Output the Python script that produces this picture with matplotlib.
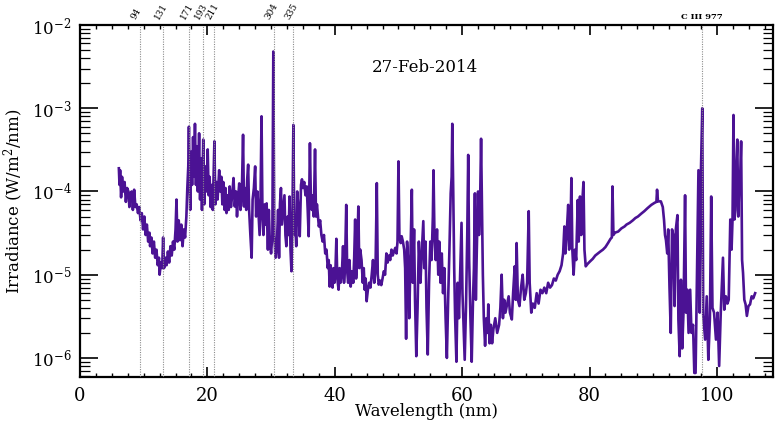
import numpy as np
import matplotlib
matplotlib.use("Agg")
import matplotlib.pyplot as plt
from matplotlib.ticker import MultipleLocator, LogLocator, NullFormatter
import matplotlib.transforms as mtransforms

plt.rcParams['font.family'] = ['DejaVu Serif']
plt.rcParams['mathtext.fontset'] = 'dejavuserif'

# spectrum, region by region (wavelength nm, irradiance W/m^2/nm)
wave_a = [6.1, 6.2, 6.3, 6.45, 6.6,
          6.8, 7.0, 7.2, 7.4, 7.6,
          7.75, 7.9, 8.1, 8.3, 8.5,
          8.7, 8.9, 9.1, 9.3, 9.5,
          9.7, 9.9, 10.1, 10.3, 10.5,
          10.7, 10.9, 11.0, 11.2, 11.4,
          11.6, 11.8, 12.0, 12.2, 12.4,
          12.5, 12.7, 12.9, 13.05, 13.2,
          13.4, 13.6, 13.8, 14.0, 14.2,
          14.4, 14.6, 14.8, 15.0, 15.15,
          15.3, 15.5, 15.7, 15.9, 16.1,
          16.3, 16.5, 16.7, 16.85, 17.0]
flux_a = [1.9e-4, 1.2e-4, 1.8e-4, 8.5e-5, 1.5e-4,
          1.0e-4, 1.3e-4, 7.5e-5, 1.1e-4, 1.0e-4,
          6.5e-5, 9.5e-5, 1.0e-4, 6.0e-5, 1.05e-4,
          6.5e-5, 7.0e-5, 5.5e-5, 6.5e-5, 4.5e-5,
          5.5e-5, 3.5e-5, 5.0e-5, 3.0e-5, 4.0e-5,
          2.5e-5, 3.2e-5, 2.2e-5, 2.8e-5, 1.8e-5,
          2.5e-5, 1.6e-5, 2.0e-5, 1.3e-5, 1.6e-5,
          1.0e-5, 1.4e-5, 1.2e-5, 2.8e-5, 1.2e-5,
          1.6e-5, 1.3e-5, 1.9e-5, 1.4e-5, 2.2e-5,
          1.7e-5, 2.5e-5, 2.0e-5, 3.5e-5, 8.0e-5,
          2.5e-5, 4.5e-5, 2.6e-5, 4.0e-5, 2.2e-5,
          3.5e-5, 2.8e-5, 5.0e-5, 1.1e-4, 2.0e-4]

wave_b = [17.1, 17.2, 17.3, 17.45, 17.6,
          17.75, 17.9, 18.05, 18.2, 18.35,
          18.5, 18.7, 18.85, 19.0, 19.15,
          19.35, 19.5, 19.7, 19.85, 20.05,
          20.2, 20.35, 20.5, 20.7, 20.85,
          21.1, 21.25, 21.45, 21.6, 21.85,
          22.0, 22.2, 22.35]
flux_b = [6.0e-4, 1.5e-4, 6.0e-5, 3.0e-4, 1.2e-4,
          4.5e-4, 1.5e-4, 6.5e-4, 1.2e-4, 3.5e-4,
          1.0e-4, 5.0e-4, 8.0e-5, 2.5e-4, 6.0e-5,
          4.2e-4, 7.0e-5, 2.0e-4, 1.0e-4, 3.2e-4,
          9.0e-5, 1.5e-4, 6.5e-5, 1.2e-4, 6.0e-5,
          4.0e-4, 7.0e-5, 1.3e-4, 8.0e-5, 1.8e-4,
          1.0e-4, 1.5e-4, 7.0e-5]

wave_c = [22.5, 22.7, 22.85, 23.0, 23.2,
          23.35, 23.5, 23.7, 23.9, 24.1,
          24.3, 24.5, 24.65, 24.8, 25.0,
          25.2, 25.4, 25.6, 25.75, 25.9,
          26.1, 26.25, 26.4, 26.55, 26.75,
          26.95, 27.1, 27.3, 27.5, 27.65,
          27.85, 28.0, 28.2, 28.35, 28.5,
          28.65, 28.8, 29.0, 29.15, 29.3,
          29.5, 29.65, 29.8, 30.0, 30.2,
          30.35, 30.5, 30.7, 30.9, 31.1,
          31.25, 31.4, 31.55, 31.7, 31.9,
          32.1, 32.25, 32.4, 32.6, 32.75,
          32.9, 33.05, 33.2, 33.35, 33.5,
          33.65, 33.8, 33.95, 34.1, 34.3,
          34.5, 34.7, 34.85, 35.0, 35.2,
          35.4, 35.6, 35.75, 35.9, 36.1,
          36.25, 36.4, 36.55, 36.7, 36.9,
          37.05, 37.2, 37.5, 37.7, 37.9,
          38.1, 38.3, 38.5, 38.7, 38.9,
          39.05]
flux_c = [1.3e-4, 6.0e-5, 1.1e-4, 5.5e-5, 9.0e-5,
          6.0e-5, 1.15e-4, 6.5e-5, 9.0e-5, 1.45e-4,
          6.6e-5, 1.0e-4, 5.0e-5, 8.0e-5, 1.25e-4,
          6.0e-5, 9.0e-5, 4.8e-4, 6.6e-5, 1.1e-4,
          6.0e-5, 1.4e-4, 2.1e-4, 6.0e-5, 3.0e-5,
          1.6e-5, 8.0e-5, 1.1e-4, 2.0e-4, 5.0e-5,
          1.0e-4, 6.0e-5, 3.0e-5, 9.0e-5, 8.0e-4,
          5.0e-5, 3.0e-5, 7.0e-5, 4.0e-5, 7.2e-5,
          2.0e-5, 6.0e-5, 2.5e-5, 1.8e-5, 3.0e-5,
          4.8e-3, 3.0e-5, 1.6e-5, 2.2e-5, 6.0e-5,
          1.6e-5, 7.2e-5, 1.1e-4, 4.0e-5, 6.0e-5,
          9.0e-5, 3.0e-5, 2.2e-5, 5.0e-5, 3.0e-5,
          8.7e-5, 2.0e-5, 1.1e-5, 4.6e-5, 6.3e-4,
          3.0e-5, 4.0e-5, 2.2e-5, 1.0e-4, 6.0e-5,
          2.9e-5, 1.2e-4, 1.4e-4, 1.1e-4, 1.3e-4,
          9.0e-5, 1.15e-4, 6.0e-5, 2.9e-5, 3.8e-4,
          8.0e-5, 6.0e-5, 9.0e-5, 5.0e-5, 3.2e-4,
          5.0e-5, 7.0e-5, 3.8e-5, 4.5e-5, 3.0e-5,
          2.5e-5, 3.0e-5, 1.8e-5, 2.0e-5, 1.2e-5,
          1.5e-5]

wave_d = [39.2, 39.35, 39.5, 39.65, 39.8,
          39.95, 40.1, 40.25, 40.4, 40.6,
          40.75, 40.9, 41.1, 41.3, 41.45,
          41.6, 41.8, 41.95, 42.1, 42.3,
          42.5, 42.7, 42.9, 43.05, 43.2,
          43.35, 43.5, 43.7, 43.85, 44.0,
          44.2, 44.4, 44.55, 44.7, 44.85,
          45.0, 45.2, 45.4, 45.6, 45.8,
          46.0, 46.2, 46.4, 46.6, 46.75,
          46.9, 47.1, 47.3, 47.5, 47.7,
          47.9, 48.1, 48.3, 48.5, 48.7,
          48.9, 49.1, 49.3, 49.5, 49.7,
          49.85, 50.0, 50.15, 50.35, 50.5,
          50.7, 50.9]
flux_d = [7.2e-6, 1.3e-5, 9.0e-6, 7.0e-6, 1.2e-5,
          8.0e-6, 1.1e-5, 2.7e-5, 9.0e-6, 6.6e-6,
          1.2e-5, 8.0e-6, 1.0e-5, 2.2e-5, 8.0e-6,
          1.2e-5, 6.9e-5, 1.1e-5, 8.0e-6, 1.5e-5,
          7.2e-6, 1.1e-5, 8.0e-6, 1.6e-5, 4.6e-5,
          9.0e-6, 1.5e-5, 6.6e-5, 1.2e-5, 2.0e-5,
          1.5e-5, 8.0e-6, 1.2e-5, 6.6e-6, 9.0e-6,
          4.8e-6, 6.6e-6, 8.0e-6, 7.0e-6, 1.0e-5,
          1.5e-5, 8.0e-6, 1.2e-5, 1.26e-4, 1.0e-5,
          7.6e-6, 8.5e-6, 7.5e-6, 9.0e-6, 1.1e-5,
          1.0e-5, 1.8e-5, 1.4e-5, 1.7e-5, 1.5e-5,
          2.0e-5, 1.7e-5, 1.9e-5, 2.1e-5, 1.8e-5,
          2.5e-5, 2.3e-4, 2.8e-5, 2.4e-5, 2.9e-5,
          2.5e-5, 2.0e-5]

wave_e = [51.05, 51.2, 51.35, 51.5, 51.7,
          51.9, 52.1, 52.25, 52.45, 52.6,
          52.8, 53.0, 53.2, 53.45, 53.6,
          53.9, 54.05, 54.25, 54.4, 54.6,
          54.8, 55.0, 55.2, 55.4, 55.5,
          55.65, 55.85, 56.05, 56.25, 56.4,
          56.6, 56.8, 57.0, 57.2, 57.4,
          57.6, 57.8, 58.0, 58.2, 58.35,
          58.45, 58.6, 58.75, 58.9, 59.1,
          59.3, 59.5, 59.75, 59.9, 60.05,
          60.25, 60.4, 60.6, 60.8, 60.95,
          61.1, 61.3, 61.5, 61.7, 61.85,
          62.0, 62.15, 62.3, 62.5, 62.65,
          62.8, 62.97, 63.1, 63.25, 63.4,
          63.6, 63.8, 64.0, 64.1, 64.3,
          64.5, 64.7, 64.9, 65.2, 65.5,
          65.8, 66.0, 66.2, 66.4, 66.6,
          66.8, 67.0, 67.3, 67.5, 67.8,
          68.0, 68.25, 68.4, 68.55, 68.75,
          69.0, 69.25, 69.5, 69.75, 70.0,
          70.2, 70.45, 70.6, 70.85, 71.1,
          71.4, 71.7, 72.0, 72.3, 72.6,
          72.9, 73.2, 73.5, 73.8, 74.1,
          74.4, 74.7, 75.0, 75.3, 75.6,
          75.85, 76.05, 76.2, 76.4, 76.65,
          76.8, 77.0, 77.15, 77.3, 77.5,
          77.7, 77.9, 78.15, 78.3, 78.5,
          78.7, 78.85, 79.05, 79.2, 79.4]
flux_e = [1.2e-5, 1.7e-6, 2.5e-5, 1.5e-5, 3.0e-6,
          2.0e-5, 1.05e-4, 8.0e-6, 3.5e-5, 5.0e-6,
          1.05e-6, 4.0e-6, 2.5e-5, 8.0e-6, 1.5e-5,
          4.4e-5, 1.2e-5, 2.5e-5, 4.0e-6, 1.1e-6,
          8.0e-6, 2.5e-5, 1.5e-5, 5.0e-5, 1.8e-4,
          3.0e-5, 1.5e-5, 3.5e-5, 1.0e-5, 2.5e-5,
          8.0e-6, 1.8e-5, 6.0e-6, 1.2e-5, 3.0e-6,
          1.0e-6, 5.0e-6, 2.0e-5, 9.5e-5, 1.5e-4,
          6.5e-4, 1.0e-4, 1.2e-5, 3.0e-6, 9.0e-7,
          8.0e-6, 3.0e-6, 1.5e-5, 4.2e-5, 6.0e-6,
          2.0e-6, 9.5e-7, 4.0e-6, 3.0e-5, 2.75e-4,
          1.5e-5, 3.0e-6, 9.0e-7, 5.0e-6, 1.2e-5,
          9.5e-5, 5.0e-6, 2.0e-5, 1.0e-4, 3.0e-5,
          6.0e-5, 4.3e-4, 8.0e-5, 1.0e-5, 3.0e-6,
          1.4e-6, 3.0e-6, 2.0e-6, 4.4e-6, 1.5e-6,
          2.5e-6, 1.5e-6, 2.2e-6, 3.0e-6, 2.0e-6,
          2.5e-6, 4.0e-6, 1.0e-5, 3.0e-6, 5.0e-6,
          3.5e-6, 4.2e-6, 5.5e-6, 3.5e-6, 2.9e-6,
          6.0e-6, 1.26e-5, 5.0e-6, 2.4e-5, 5.0e-6,
          4.2e-6, 7.0e-6, 1.0e-5, 5.0e-6, 6.0e-6,
          8.0e-6, 5.8e-5, 8.0e-6, 3.5e-6, 4.5e-6,
          4.0e-6, 6.0e-6, 4.5e-6, 6.6e-6, 6.0e-6,
          7.0e-6, 6.0e-6, 8.0e-6, 7.0e-6, 7.5e-6,
          9.0e-6, 8.5e-6, 1.0e-5, 1.1e-5, 1.3e-5,
          1.8e-5, 3.8e-5, 1.8e-5, 3.0e-5, 6.9e-5,
          2.0e-5, 3.0e-5, 1.45e-4, 2.0e-5, 1.0e-5,
          2.0e-5, 1.5e-5, 7.9e-5, 2.5e-5, 8.7e-5,
          3.0e-5, 7.2e-5, 1.3e-4, 2.0e-5, 1.26e-5]

wave_f = [79.7, 80.1, 80.5, 80.9, 81.3,
          81.7, 82.1, 82.5, 82.9, 83.3,
          83.5, 83.6, 83.75, 84.0, 84.5,
          85.0, 85.5, 85.8, 86.3, 86.8,
          87.2, 87.6, 88.1, 88.6, 89.1,
          89.7, 90.2, 90.5, 90.6, 90.75,
          91.2, 91.5, 91.7, 91.85, 92.0]
flux_f = [1.35e-5, 1.45e-5, 1.55e-5, 1.7e-5, 1.8e-5,
          1.9e-5, 2.0e-5, 2.15e-5, 2.4e-5, 2.7e-5,
          2.8e-5, 1.15e-4, 3.0e-5, 3.2e-5, 3.3e-5,
          3.6e-5, 3.8e-5, 4.0e-5, 4.2e-5, 4.5e-5,
          4.8e-5, 5.0e-5, 5.4e-5, 5.8e-5, 6.3e-5,
          6.9e-5, 7.3e-5, 7.5e-5, 1.05e-4, 7.6e-5,
          7.6e-5, 6.5e-5, 4.5e-5, 3.0e-5, 2.6e-5]

wave_g = [92.2, 92.35, 92.55, 92.75, 92.95,
          93.15, 93.35, 93.55, 93.8, 93.95,
          94.15, 94.35, 94.55, 94.75, 95.0,
          95.15, 95.35, 95.55, 95.8, 96.0,
          96.25, 96.45, 96.65, 96.85, 97.1,
          97.3, 97.5, 97.7, 97.85, 98.15,
          98.4, 98.65, 98.9, 99.1, 99.3,
          99.55, 99.85, 100.1, 100.35, 100.6,
          100.95, 101.15, 101.4, 101.65, 101.85,
          102.1, 102.3, 102.45, 102.6, 102.75,
          102.9, 103.05, 103.2, 103.35, 103.5,
          103.65, 103.8, 103.95, 104.1, 104.3,
          104.5, 104.7, 104.95, 105.2, 105.45,
          105.7, 106.0]
flux_g = [1.8e-5, 3.5e-5, 7.2e-6, 2.0e-6, 3.5e-5,
          3.0e-5, 4.2e-6, 3.5e-5, 5.2e-5, 2.9e-6,
          1.05e-6, 8.7e-6, 1.3e-6, 3.5e-6, 9.0e-5,
          3.5e-6, 6.6e-6, 2.0e-6, 6.6e-6, 2.0e-6,
          2.5e-6, 6.6e-7, 6.6e-7, 8.7e-6, 1.8e-4,
          3.5e-6, 1.9e-4, 1.0e-3, 3.3e-6, 1.66e-6,
          5.5e-6, 9.5e-7, 3.0e-6, 8.7e-5, 4.0e-6,
          3.5e-6, 1.66e-6, 3.5e-6, 8.0e-7, 3.5e-6,
          1.6e-5, 3.8e-6, 5.5e-6, 4.5e-6, 5.0e-6,
          4.6e-5, 2.0e-5, 4.6e-5, 8.3e-4, 4.6e-5,
          6.0e-5, 2.0e-4, 4.2e-4, 5.0e-5, 1.2e-4,
          1.5e-4, 4.0e-4, 1.5e-5, 1.05e-5, 5.0e-6,
          4.4e-6, 3.2e-6, 4.2e-6, 4.4e-6, 5.5e-6,
          5.2e-6, 6.0e-6]

# marked lines along the top
line_pos = [9.4, 13.1, 17.1, 19.3, 21.1, 30.4, 33.5]
line_lab = ['94', '131', '171', '193', '211', '304', '335']
c3_pos = 97.7
c3_lab = 'C III 977'

wave = wave_a + wave_b + wave_c + wave_d + wave_e + wave_f + wave_g
flux = flux_a + flux_b + flux_c + flux_d + flux_e + flux_f + flux_g

fig = plt.figure(figsize=(7.76, 4.26), dpi=100)
ax = fig.add_axes([0.1031, 0.115, 0.893, 0.8263])

ax.plot(wave, flux, color='#4b1294', lw=1.9, zorder=2)
ax.set_yscale('log')
ax.set_xlim(0, 108.8)
ax.set_ylim(5.9e-7, 1e-2)

for x in line_pos + [c3_pos]:
    ax.axvline(x, color='#8c8c8c', ls=(0, (1, 1.2)), lw=0.8, zorder=3)

trans = mtransforms.blended_transform_factory(ax.transData, ax.transAxes)
for x, lab in zip(line_pos, line_lab):
    ax.text(x - 0.4, 1.012, lab, transform=trans, rotation=60, fontsize=6.5,
            ha='left', va='bottom', rotation_mode='anchor')
ax.text(c3_pos, 1.01, c3_lab, transform=trans, fontsize=6, fontweight='bold',
        ha='center', va='bottom')

ax.xaxis.set_major_locator(MultipleLocator(20))
ax.xaxis.set_minor_locator(MultipleLocator(2.5))
ax.yaxis.set_major_locator(LogLocator(base=10, numticks=10))
ax.yaxis.set_minor_locator(LogLocator(base=10, subs=np.arange(2, 10), numticks=20))
ax.yaxis.set_minor_formatter(NullFormatter())

ax.tick_params(which='both', direction='in', top=True, right=True, colors='black')
ax.tick_params(axis='y', which='major', length=13, width=1.2, labelsize=12, pad=6)
ax.tick_params(axis='y', which='minor', length=7, width=0.9)
ax.tick_params(axis='x', which='major', length=7, width=1.2, labelsize=13, pad=7)
ax.tick_params(axis='x', which='minor', length=3, width=1.0)
for s in ax.spines.values():
    s.set_linewidth(1.6)

ax.set_xlabel('Wavelength (nm)', fontsize=12, labelpad=-1)
ax.set_ylabel('Irradiance (W/m$^2$/nm)', fontsize=12, labelpad=4)

ax.text(0.498, 0.878, '27-Feb-2014', transform=ax.transAxes, fontsize=12,
        ha='center', va='center')

fig.savefig('out.png', dpi=100)
